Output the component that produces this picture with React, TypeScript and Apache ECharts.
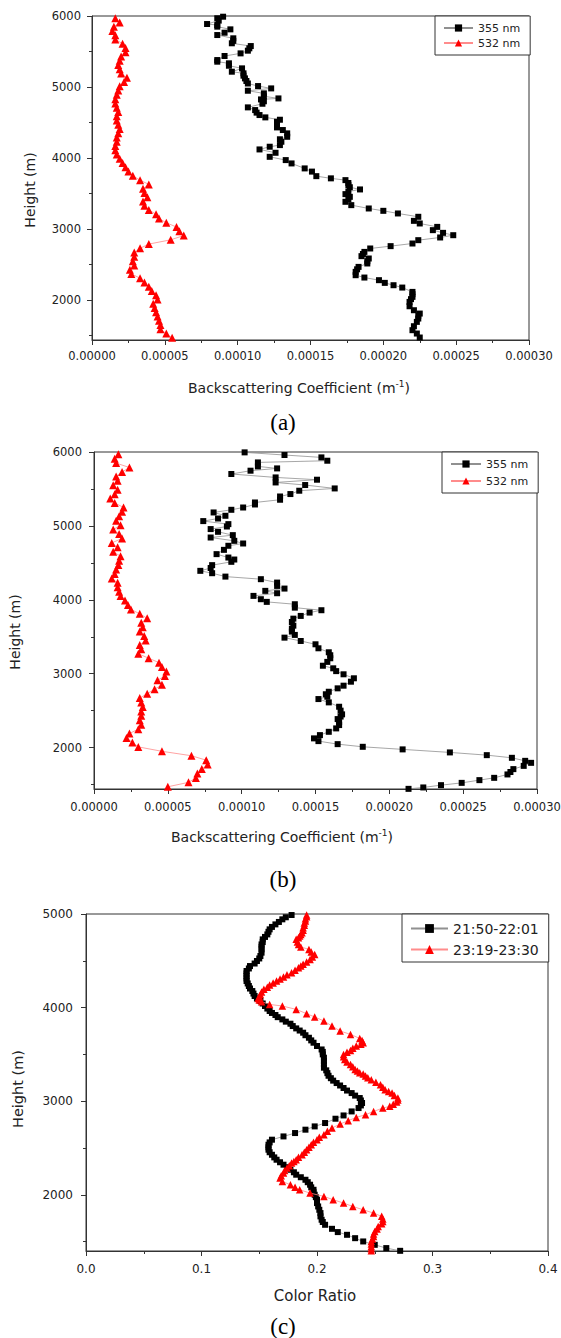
import React, { useEffect, useRef } from "react";
import * as echarts from "echarts";

// ---------- DATA ----------
// Panel (a)/(b): backscattering coefficients in units of 1e-5 m^-1, heights in m
const H_AB_532 = [
  1470, 1530, 1590, 1650, 1710, 1770, 1830, 1890, 1950, 2010,
  2070, 2130, 2190, 2250, 2310, 2370, 2430, 2490, 2550, 2610,
  2670, 2730, 2790, 2850, 2910, 2970, 3030, 3090, 3150, 3210,
  3270, 3330, 3390, 3450, 3510, 3570, 3630, 3690, 3750, 3810,
  3870, 3930, 3990, 4050, 4110, 4170, 4230, 4290, 4350, 4410,
  4470, 4530, 4590, 4650, 4710, 4770, 4830, 4890, 4950, 5010,
  5070, 5130, 5190, 5250, 5310, 5370, 5430, 5490, 5550, 5610,
  5670, 5730, 5790, 5850, 5910, 5970,
];
const A_532 = [
  5.5, 5.1, 4.7, 4.7, 4.6, 4.5, 4.4, 4.3, 4.2, 4.5,
  4.4, 4.1, 3.9, 3.6, 3.3, 2.7, 2.6, 2.9, 2.8, 2.9,
  2.9, 3.3, 3.9, 5.4, 6.3, 6.0, 5.8, 5.1, 4.6, 4.4,
  3.9, 3.6, 3.5, 3.8, 3.6, 3.5, 3.9, 3.3, 2.8, 2.5,
  2.3, 2.1, 1.9, 1.7, 1.6, 1.6, 1.7, 1.7, 1.8, 1.9,
  1.8, 1.7, 1.7, 1.8, 1.7, 1.6, 1.6, 1.7, 1.8, 1.9,
  2.2, 2.4, 2.0, 1.9, 1.8, 1.9, 2.0, 2.3, 2.3, 2.1,
  1.6, 1.6, 1.4, 1.5, 1.9, 1.6,
];
const B_532 = [
  5.0, 6.4, 6.9, 7.0, 7.3, 7.7, 7.6, 6.6, 4.6, 3.0,
  2.6, 2.2, 2.4, 3.0, 3.2, 3.1, 3.2, 3.2, 3.3, 3.2,
  3.1, 3.6, 4.1, 4.6, 4.3, 4.8, 4.9, 4.6, 4.4, 3.7,
  3.0, 3.2, 3.1, 3.5, 3.4, 3.1, 3.3, 3.2, 3.6, 3.1,
  2.5, 2.3, 2.1, 1.8, 1.7, 1.6, 1.6, 1.2, 1.4, 1.5,
  1.65, 1.7, 1.8, 1.3, 1.6, 1.2, 1.9, 1.7, 1.3, 1.8,
  1.5, 1.7, 1.9, 2.0, 1.4, 1.1, 1.4, 1.6, 1.3, 1.6,
  1.5, 1.9, 2.4, 1.5, 1.4, 1.65,
];
const A_355_H = [
  1475, 1531, 1578, 1634, 1695, 1742, 1780, 1812, 1859, 1915,
  1976, 2015, 2047, 2085, 2117, 2178, 2211, 2244, 2282, 2319,
  2352, 2399, 2435, 2469, 2517, 2550, 2587, 2620, 2650, 2680,
  2728, 2761, 2798, 2845, 2883, 2915, 2948, 2986, 3032, 3080,
  3117, 3174, 3221, 3258, 3291, 3338, 3385, 3420, 3455, 3493,
  3530, 3559, 3590, 3620, 3650, 3690, 3715, 3746, 3810, 3855,
  3925, 3972, 4018, 4075, 4122, 4160, 4183, 4230, 4265, 4300,
  4348, 4395, 4432, 4470, 4512, 4540, 4573, 4606, 4640, 4676,
  4714, 4765, 4800, 4826, 4840, 4870, 4911, 4948, 4981, 5014,
  5050, 5085, 5122, 5160, 5193, 5216, 5263, 5300, 5334, 5357,
  5380, 5437, 5474, 5512, 5545, 5577, 5616, 5650, 5686, 5732,
  5765, 5812, 5850, 5873, 5887, 5935, 5968, 5990,
];
const A_355 = [
  22.5, 22.3, 22.0, 22.1, 22.3, 22.4, 22.4, 22.5, 22.1, 21.8,
  21.8, 21.9, 22.0, 22.0, 22.0, 21.3, 20.7, 20.1, 19.7, 18.7,
  18.1, 18.1, 18.2, 18.3, 18.9, 18.9, 19.0, 18.5, 18.6, 18.7,
  19.1, 20.5, 22.0, 22.4, 23.9, 24.8, 24.1, 23.4, 23.7, 22.5,
  22.1, 22.4, 21.0, 20.0, 19.0, 17.8, 17.4, 17.6, 17.7, 17.4,
  17.6, 18.4, 17.7, 17.6, 17.6, 17.4, 16.4, 15.4, 15.1, 14.6,
  13.7, 13.3, 12.2, 12.6, 11.5, 12.2, 12.9, 13.0, 12.9, 13.4,
  13.4, 13.1, 12.7, 12.7, 12.7, 12.9, 11.9, 11.5, 11.3, 11.2,
  10.7, 11.7, 11.8, 11.6, 12.8, 11.8, 11.8, 10.7, 12.3, 11.4,
  10.7, 10.6, 10.5, 10.4, 10.4, 9.6, 10.3, 9.4, 9.4, 8.6,
  8.6, 9.1, 10.2, 10.7, 10.8, 10.9, 9.6, 9.7, 9.7, 8.6,
  9.1, 9.5, 8.6, 8.6, 7.9, 8.7, 8.6, 9.0,
];
const B_355_H = [
  1442, 1461, 1492, 1523, 1560, 1591, 1637, 1670, 1709, 1753,
  1794, 1821, 1862, 1898, 1935, 1976, 2011, 2047, 2088, 2125,
  2169, 2214, 2260, 2305, 2345, 2386, 2420, 2450, 2500, 2553,
  2612, 2657, 2689, 2722, 2756, 2802, 2838, 2892, 2938, 2992,
  3035, 3073, 3108, 3160, 3209, 3250, 3290, 3344, 3398, 3443,
  3488, 3525, 3570, 3610, 3650, 3700, 3745, 3782, 3827, 3859,
  3894, 3940, 3972, 4008, 4053, 4089, 4121, 4152, 4188, 4233,
  4279, 4314, 4360, 4392, 4430, 4469, 4514, 4545, 4572, 4618,
  4676, 4731, 4762, 4798, 4843, 4875, 4920, 4957, 4992, 5024,
  5065, 5100, 5137, 5182, 5218, 5249, 5290, 5317, 5354, 5398,
  5431, 5476, 5507, 5553, 5588, 5625, 5656, 5702, 5747, 5778,
  5805, 5859, 5882, 5927, 5959, 5995,
];
const B_355 = [
  21.3, 22.3, 23.5, 24.9, 26.1, 27.1, 28.0, 28.2, 28.4, 29.1,
  29.6, 29.2, 28.3, 26.6, 24.1, 20.9, 18.2, 16.5, 15.2, 14.9,
  15.3, 15.9, 16.4, 16.6, 16.6, 16.5, 16.7, 16.8, 16.7, 16.6,
  15.9, 15.2, 15.8, 15.7, 15.9, 16.5, 16.9, 17.4, 17.6, 16.9,
  16.4, 16.2, 15.5, 15.8, 16.0, 16.0, 15.9, 15.2, 15.0, 14.0,
  12.9, 13.6, 13.4, 13.4, 13.5, 13.4, 13.5, 14.0, 14.6, 15.4,
  13.6, 13.6, 11.7, 11.3, 10.8, 12.4, 11.6, 12.9, 12.4, 12.4,
  11.3, 8.9, 8.0, 7.2, 7.9, 8.0, 9.3, 9.5, 9.1, 8.3,
  8.8, 9.1, 10.1, 9.5, 7.9, 9.4, 8.4, 7.9, 9.0, 9.1,
  7.4, 8.4, 8.9, 8.1, 9.3, 10.1, 10.9, 10.9, 12.6, 12.6,
  13.3, 13.9, 16.3, 14.3, 12.3, 15.1, 12.3, 9.3, 10.6, 12.4,
  11.1, 11.1, 15.8, 15.4, 12.9, 10.2,
];

// Panel (c): colour ratio
const C_1_H = [
  1402, 1431, 1466, 1502, 1537, 1573, 1602, 1637, 1680, 1710,
  1734, 1770, 1805, 1840, 1876, 1912, 1948, 1975, 2001, 2028,
  2054, 2080, 2108, 2135, 2161, 2188, 2215, 2241, 2268, 2295,
  2322, 2348, 2375, 2400, 2428, 2455, 2482, 2508, 2535, 2560,
  2589, 2624, 2660, 2696, 2731, 2767, 2813, 2848, 2891, 2927,
  2955, 2981, 3008, 3034, 3060, 3087, 3114, 3141, 3168, 3194,
  3220, 3246, 3272, 3300, 3330, 3358, 3393, 3429, 3465, 3500,
  3527, 3553, 3590, 3625, 3650, 3678, 3705, 3732, 3755, 3778,
  3803, 3828, 3850, 3874, 3898, 3921, 3943, 3964, 3990, 4017,
  4044, 4070, 4097, 4124, 4150, 4177, 4204, 4231, 4258, 4284,
  4311, 4338, 4365, 4391, 4418, 4444, 4471, 4498, 4525, 4551,
  4587, 4622, 4650, 4675, 4700, 4729, 4755, 4782, 4810, 4836,
  4862, 4889, 4915, 4943, 4965, 4989,
];
const C_1 = [
  0.272, 0.260, 0.250, 0.240, 0.233, 0.226, 0.218, 0.213, 0.207, 0.205,
  0.204, 0.203, 0.203, 0.202, 0.201, 0.200, 0.200, 0.199, 0.198, 0.197,
  0.197, 0.195, 0.194, 0.192, 0.190, 0.186, 0.182, 0.180, 0.177, 0.174,
  0.171, 0.168, 0.165, 0.163, 0.161, 0.159, 0.158, 0.158, 0.158, 0.159,
  0.161, 0.171, 0.181, 0.190, 0.198, 0.207, 0.216, 0.223, 0.230, 0.236,
  0.238, 0.239, 0.238, 0.237, 0.233, 0.230, 0.226, 0.223, 0.220, 0.217,
  0.214, 0.212, 0.210, 0.209, 0.208, 0.206, 0.206, 0.206, 0.206, 0.205,
  0.205, 0.204, 0.200, 0.197, 0.195, 0.193, 0.190, 0.188, 0.185, 0.182,
  0.179, 0.177, 0.173, 0.170, 0.166, 0.164, 0.161, 0.159, 0.157, 0.155,
  0.153, 0.151, 0.148, 0.146, 0.145, 0.144, 0.142, 0.141, 0.140, 0.139,
  0.139, 0.139, 0.139, 0.139, 0.141, 0.142, 0.146, 0.148, 0.150, 0.151,
  0.152, 0.152, 0.152, 0.152, 0.153, 0.153, 0.155, 0.157, 0.158, 0.159,
  0.161, 0.164, 0.167, 0.170, 0.173, 0.178,
];
const C_2_H = [
  1402, 1425, 1449, 1475, 1502, 1528, 1555, 1582, 1609, 1636,
  1663, 1690, 1716, 1743, 1770, 1805, 1840, 1876, 1912, 1948,
  1983, 2019, 2054, 2081, 2108, 2143, 2179, 2205, 2232, 2259,
  2286, 2312, 2339, 2357, 2375, 2401, 2428, 2455, 2482, 2508,
  2535, 2562, 2589, 2615, 2642, 2678, 2714, 2756, 2792, 2827,
  2856, 2891, 2927, 2945, 2968, 2991, 3012, 3034, 3060, 3087,
  3105, 3123, 3150, 3176, 3203, 3229, 3250, 3269, 3290, 3305,
  3322, 3340, 3367, 3393, 3420, 3447, 3474, 3500, 3522, 3543,
  3566, 3590, 3608, 3625, 3650, 3671, 3714, 3750, 3803, 3857,
  3900, 3935, 3981, 4017, 4034, 4063, 4081, 4098, 4120, 4141,
  4168, 4195, 4218, 4241, 4262, 4284, 4305, 4327, 4350, 4373,
  4400, 4426, 4444, 4462, 4488, 4515, 4541, 4568, 4595, 4622,
  4648, 4675, 4702, 4729, 4747, 4765, 4782, 4800, 4827, 4854,
  4880, 4905, 4925, 4950, 4970, 4989,
];
const C_2 = [
  0.247, 0.247, 0.247, 0.247, 0.247, 0.248, 0.249, 0.249, 0.250, 0.252,
  0.253, 0.256, 0.257, 0.257, 0.256, 0.249, 0.240, 0.231, 0.223, 0.214,
  0.206, 0.194, 0.185, 0.181, 0.177, 0.170, 0.168, 0.169, 0.171, 0.172,
  0.174, 0.176, 0.178, 0.180, 0.182, 0.184, 0.187, 0.189, 0.191, 0.193,
  0.195, 0.197, 0.200, 0.202, 0.206, 0.209, 0.213, 0.220, 0.227, 0.234,
  0.242, 0.249, 0.257, 0.263, 0.266, 0.269, 0.270, 0.270, 0.267, 0.265,
  0.262, 0.259, 0.257, 0.255, 0.251, 0.247, 0.244, 0.242, 0.240, 0.237,
  0.235, 0.233, 0.231, 0.229, 0.226, 0.224, 0.223, 0.223, 0.226, 0.229,
  0.231, 0.234, 0.238, 0.240, 0.239, 0.237, 0.229, 0.220, 0.213, 0.206,
  0.198, 0.191, 0.182, 0.170, 0.159, 0.152, 0.150, 0.149, 0.150, 0.151,
  0.152, 0.154, 0.157, 0.159, 0.162, 0.165, 0.168, 0.171, 0.174, 0.178,
  0.181, 0.184, 0.186, 0.188, 0.191, 0.194, 0.196, 0.198, 0.195, 0.193,
  0.186, 0.184, 0.183, 0.182, 0.184, 0.185, 0.186, 0.187, 0.188, 0.188,
  0.189, 0.189, 0.190, 0.190, 0.191, 0.191,
];

const AB_Y_LABELS = [2000, 3000, 4000, 5000, 6000];
const AB_Y_MINOR = [1500, 2500, 3500, 4500, 5500];
const C_Y_LABELS = [2000, 3000, 4000, 5000];
const C_Y_MINOR = [1500, 2500, 3500, 4500];
const UNIT = 1e-5;

// ---------- STYLE ----------
const FONT = "'DejaVu Sans', sans-serif";
const SERIF = "'Liberation Serif', 'Times New Roman', serif";
const AXIS = "#333";
const TXT = "#222";

const pairs = (vals: number[], hs: number[], unit: number) =>
  vals.map((v, i) => [v * unit, hs[i]]);

function mkSeries(name: string, hs: number[], vals: number[], unit: number, idx: number, kind: "black" | "red", big = false) {
  const black = kind === "black";
  return {
    type: "line",
    name,
    xAxisIndex: idx,
    yAxisIndex: idx,
    data: pairs(vals, hs, unit),
    symbol: black ? "rect" : "triangle",
    symbolSize: black ? 6 : big ? 7.5 : 8,
    showSymbol: true,
    itemStyle: { color: black ? "#000" : "#ff0000" },
    lineStyle: { color: black ? "#909090" : "#ff8c8c", width: 0.8 },
    emphasis: { disabled: true },
    z: black ? 2 : 3,
  };
}

function xAxis(grid: number, max: number, interval: number, dec: number, fs: number, margin: number) {
  return {
    type: "value",
    gridIndex: grid,
    min: 0,
    max,
    interval,
    axisLine: { show: true, onZero: false, lineStyle: { color: AXIS, width: 1 } },
    axisTick: { show: true, length: 5, lineStyle: { color: AXIS } },
    minorTick: { show: true, splitNumber: 2, length: 3, lineStyle: { color: AXIS } },
    splitLine: { show: false },
    minorSplitLine: { show: false },
    axisLabel: {
      formatter: (v: number) => v.toFixed(dec),
      fontSize: fs,
      fontFamily: FONT,
      color: TXT,
      margin,
    },
  };
}

function yAxis(grid: number, min: number, max: number, labels: number[], fs: number, margin: number) {
  return {
    type: "value",
    gridIndex: grid,
    position: "left",
    min,
    max,
    axisLine: { show: true, onZero: false, lineStyle: { color: AXIS, width: 1 } },
    axisTick: { show: true, length: 5, customValues: labels, lineStyle: { color: AXIS } },
    splitLine: { show: false },
    axisLabel: {
      customValues: labels,
      formatter: (v: number) => String(Math.round(v)),
      fontSize: fs,
      fontFamily: FONT,
      color: TXT,
      margin,
    },
  };
}

function yMinor(grid: number, min: number, max: number, ticks: number[]) {
  return {
    type: "value",
    gridIndex: grid,
    position: "left",
    min,
    max,
    axisLine: { show: false },
    axisTick: { show: true, length: 3, customValues: ticks, lineStyle: { color: AXIS } },
    axisLabel: { show: false },
    splitLine: { show: false },
  };
}

function legend(names: string[], left: number, top: number, fs: number, iw: number, ih: number, lh: number, gap: number, padding: number[]) {
  return {
    data: names,
    left,
    top,
    orient: "vertical",
    selectedMode: false,
    itemWidth: iw,
    itemHeight: ih,
    itemGap: gap,
    padding,
    borderColor: AXIS,
    borderWidth: 1,
    borderRadius: 0,
    backgroundColor: "#fff",
    textStyle: { fontSize: fs, fontFamily: FONT, color: TXT, lineHeight: lh },
  };
}

function text(x: number, y: number, content: string, fs: number, family = FONT, rotation = 0, rich?: any, fill = TXT) {
  return {
    type: "text",
    x,
    y,
    rotation,
    style: {
      text: content,
      fontSize: fs,
      fontFamily: family,
      fill,
      align: "center",
      verticalAlign: "middle",
      rich,
    },
  };
}

const supRich = {
  n: { fontSize: 14, fontFamily: FONT, fill: TXT, lineHeight: 17 },
  s: { fontSize: 9, fontFamily: FONT, fill: TXT, lineHeight: 17, verticalAlign: "top" },
};

export default function App() {
  const ref = useRef<HTMLDivElement>(null);
  useEffect(() => {
    if (!ref.current) return;
    const chart = echarts.init(ref.current, undefined, { renderer: "svg" });
    const gridBase = { show: true, borderColor: AXIS, borderWidth: 1, backgroundColor: "transparent", containLabel: false, outerBoundsMode: "none" };
    const option: any = {
      animation: false,
      backgroundColor: "#fff",
      grid: [
        { ...gridBase, left: 92, top: 16, width: 437, height: 324 },
        { ...gridBase, left: 94, top: 452, width: 443, height: 337 },
        { ...gridBase, left: 86, top: 914, width: 462, height: 337 },
      ],
      xAxis: [
        xAxis(0, 0.0003, 0.00005, 5, 11.5, 10),
        xAxis(1, 0.0003, 0.00005, 5, 11.5, 12),
        xAxis(2, 0.4, 0.1, 1, 12, 12),
      ],
      yAxis: [
        yAxis(0, 1440, 6000, AB_Y_LABELS, 11.5, 11),
        yAxis(1, 1440, 6000, AB_Y_LABELS, 11.5, 12),
        yAxis(2, 1400, 5000, C_Y_LABELS, 12, 13),
        yMinor(0, 1440, 6000, AB_Y_MINOR),
        yMinor(1, 1440, 6000, AB_Y_MINOR),
        yMinor(2, 1400, 5000, C_Y_MINOR),
      ],
      legend: [
        legend(["355 nm", "532 nm"], 435, 16, 11, 29, 9, 14, 1, [5, 10, 5, 8]),
        legend(["355 nm", "532 nm"], 442, 452, 11, 30, 9, 14, 3, [5, 10, 5, 8]),
        legend(["21:50-22:01", "23:19-23:30"], 402, 914, 14, 37, 11, 17, 4, [6, 10, 4, 8]),
      ],
      series: [
        mkSeries("355 nm", A_355_H, A_355, UNIT, 0, "black"),
        mkSeries("532 nm", H_AB_532, A_532, UNIT, 0, "red"),
        mkSeries("355 nm", B_355_H, B_355, UNIT, 1, "black"),
        mkSeries("532 nm", H_AB_532, B_532, UNIT, 1, "red"),
        mkSeries("21:50-22:01", C_1_H, C_1, 1, 2, "black"),
        mkSeries("23:19-23:30", C_2_H, C_2, 1, 2, "red", true),
      ],
      graphic: [
        text(30, 190, "Height (m)", 14, FONT, Math.PI / 2),
        text(15, 632, "Height (m)", 14, FONT, Math.PI / 2),
        text(18, 1089, "Height (m)", 14.5, FONT, Math.PI / 2),
        text(299, 388, "{n|Backscattering Coefficient (m}{s|-1}{n|)}", 14, FONT, 0, supRich),
        text(282, 837, "{n|Backscattering Coefficient (m}{s|-1}{n|)}", 14, FONT, 0, supRich),
        text(315, 1296, "Color Ratio", 15),
        text(283, 422, "(a)", 23, SERIF, 0, undefined, "#000"),
        text(283, 879, "(b)", 23, SERIF, 0, undefined, "#000"),
        text(283, 1326, "(c)", 23, SERIF, 0, undefined, "#000"),
      ],
    };
    chart.setOption(option);
    return () => chart.dispose();
  }, []);
  return (
    <div
      ref={ref}
      style={{ position: "absolute", left: 0, top: 0, width: 561, height: 1338, background: "#fff" }}
    />
  );
}
